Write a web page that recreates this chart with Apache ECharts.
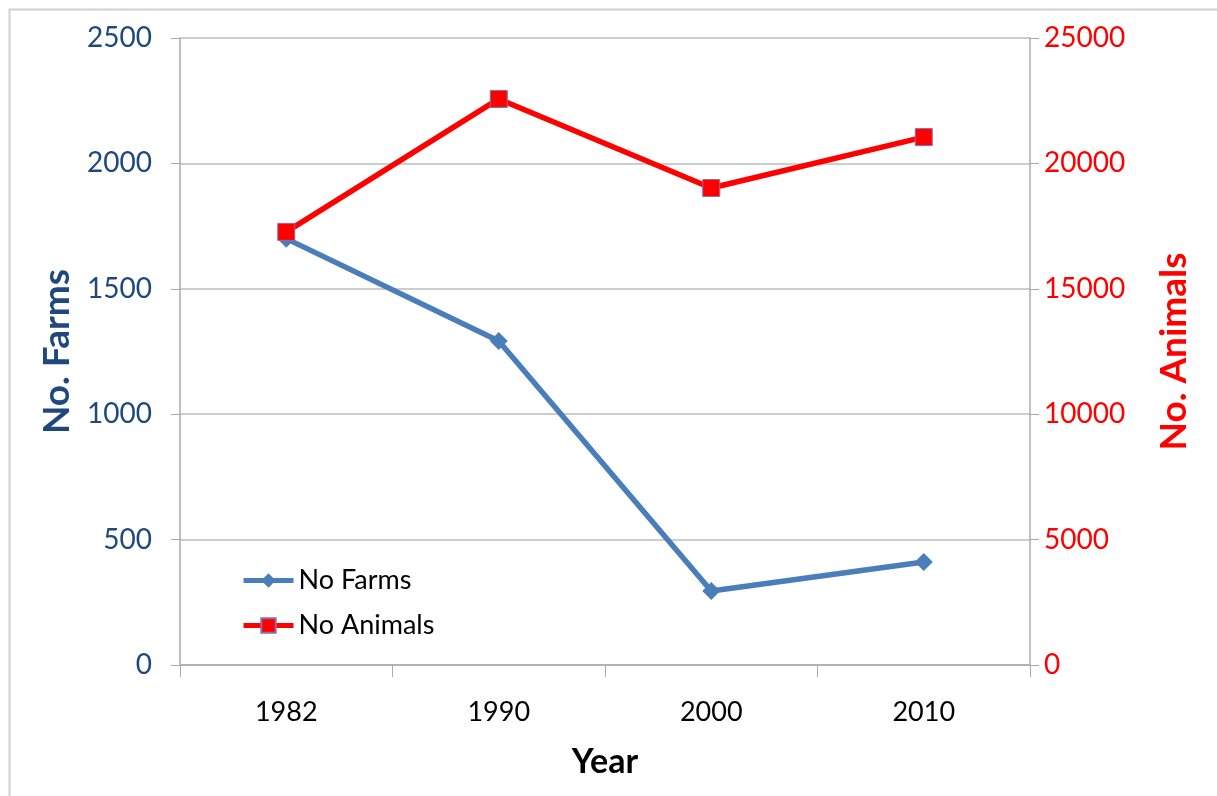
<!DOCTYPE html>
<html>
<head>
<meta charset="utf-8">
<script src="https://cdn.jsdelivr.net/npm/echarts@6/dist/echarts.min.js"></script>
<style>
html,body{margin:0;padding:0;background:#fff;}
#chart{width:1217px;height:796px;}
</style>
</head>
<body>
<div id="chart"></div>
<script>
const years = ['1982', '1990', '2000', '2010'];
const farms = [1700, 1292, 295, 411];
const animals = [17270, 22570, 19020, 21050];
const leftTicks = [0, 2500, 500];
const rightTicks = [0, 25000, 5000];

const FONT = 'Lato';
const plain = v => String(v);
const chart = echarts.init(document.getElementById('chart'));
chart.setOption({
  animation: false,
  backgroundColor: '#fff',
  textStyle: { fontFamily: FONT },
  graphic: [{
    type: 'rect', shape: { x: 9.5, y: 9.5, width: 1220, height: 800 },
    style: { fill: 'none', stroke: '#d0d0d0', lineWidth: 2 }, silent: true
  }],
  grid: { left: 180, right: 187, top: 38, bottom: 131 },
  legend: {
    orient: 'vertical', left: 236, top: 562, itemGap: 18,
    itemWidth: 50, itemHeight: 18,
    textStyle: { fontSize: 27, color: '#000', fontFamily: FONT },
    lineStyle: { width: 5 },
    data: ['No Farms', 'No Animals']
  },
  xAxis: {
    type: 'category', data: years, boundaryGap: true,
    name: 'Year', nameLocation: 'middle', nameGap: 80,
    nameTextStyle: { fontSize: 34, fontWeight: 'bold', color: '#000', fontFamily: FONT },
    axisLine: { lineStyle: { color: '#aaa', width: 1.5 } },
    axisTick: { show: true, length: 12, alignWithLabel: false, lineStyle: { color: '#aaa' } },
    axisLabel: { fontSize: 27, color: '#000', margin: 34, fontFamily: FONT }
  },
  yAxis: [{
    type: 'value', min: leftTicks[0], max: leftTicks[1], interval: leftTicks[2],
    position: 'left',
    name: 'No. Farms', nameLocation: 'middle', nameGap: 104, nameRotate: 90,
    nameTextStyle: { fontSize: 37, fontWeight: 'bold', color: '#1F497D', fontFamily: FONT },
    axisLine: { show: true, lineStyle: { color: '#aaa', width: 1.5 } },
    axisTick: { show: true, length: 9, lineStyle: { color: '#aaa' } },
    axisLabel: { fontSize: 28, color: '#1F497D', margin: 28, fontFamily: FONT, formatter: plain },
    splitLine: { show: true, lineStyle: { color: '#bdbdbd', width: 1.5 } }
  }, {
    type: 'value', min: rightTicks[0], max: rightTicks[1], interval: rightTicks[2],
    position: 'right',
    name: 'No. Animals', nameLocation: 'middle', nameGap: 126, nameRotate: 90,
    nameTextStyle: { fontSize: 37, fontWeight: 'bold', color: '#FF0000', fontFamily: FONT },
    axisLine: { show: true, lineStyle: { color: '#aaa', width: 1.5 } },
    axisTick: { show: true, length: 9, lineStyle: { color: '#aaa' } },
    axisLabel: { fontSize: 28, color: '#FF0000', margin: 14, fontFamily: FONT, formatter: plain },
    splitLine: { show: false }
  }],
  series: [{
    name: 'No Farms', type: 'line', yAxisIndex: 0, data: farms,
    symbol: 'diamond', symbolSize: 18,
    lineStyle: { color: '#4A7EBB', width: 5.5 },
    itemStyle: { color: '#4A7EBB' }, z: 2
  }, {
    name: 'No Animals', type: 'line', yAxisIndex: 1, data: animals,
    symbol: 'rect', symbolSize: 17,
    lineStyle: { color: '#FF0000', width: 5.5 },
    itemStyle: { color: '#FF0000', borderColor: '#8c6fa0', borderWidth: 1 }, z: 3
  }]
});
</script>
</body>
</html>
